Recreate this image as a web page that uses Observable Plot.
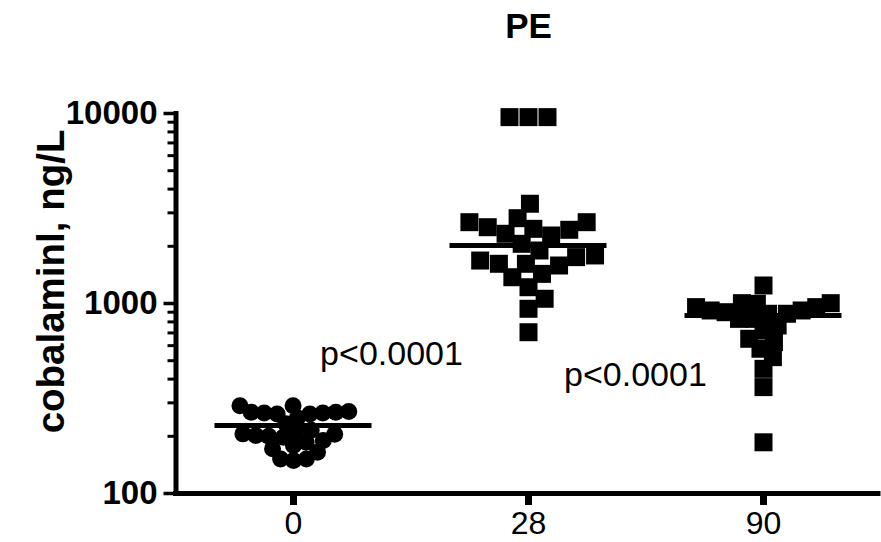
<!DOCTYPE html>
<html><head><meta charset="utf-8">
<script src="https://cdn.jsdelivr.net/npm/d3@7"></script>
<script src="https://cdn.jsdelivr.net/npm/@observablehq/plot@0.6"></script>
<style>
body{margin:0;background:#fff;font-family:"Liberation Sans",Arial,sans-serif;}
#title{position:relative;width:881px;height:50px;}
#title div{position:absolute;left:176px;right:0;top:8px;text-align:center;font-weight:bold;font-size:35px;line-height:35px;color:#000;}
</style>
</head><body>
<div id="title"><div id="titleText"></div></div>
<div id="chart"></div>
<script>
// ---- data ----
const title = "PE";
const yLabel = "cobalaminl, ng/L";
const days = ["0", "28", "90"];
const day0 = [268, 265, 262, 250, 290, 290, 262, 265, 268, 270,
              210, 233, 215, 205, 200,
              198, 186, 172, 152, 149, 152, 165, 179, 190, 202, 206];
const day28 = [9570, 9570, 9570, 3350, 2812, 2679, 2679, 2521, 2443, 2472, 2328, 2280,
               2061, 1901, 1754, 1618, 1585, 1618, 1683, 1790, 1432, 1375, 1218, 1059, 938, 706];
const day90 = [1244, 1004, 996, 957, 919, 900, 883, 830, 766, 830, 883, 919, 957, 1004,
               721, 652, 626, 578, 522, 453, 363, 186];
const medians = [228, 2018, 865];
const yTicks = [100, 1000, 10000];
const pLabels = ["p<0.0001", "p<0.0001"];
const pY = [540, 418];          // vertical position (value) of the p labels
const pX = [0.917, 1.955];      // horizontal position in group units

document.getElementById("titleText").textContent = title;

// ---- layout ----
const W = 881, H = 492, mL = 175.5, mR = 0.5, mT = 63, mB = 49;
const step = (W - mL - mR) / days.length;
const yPix = d3.scaleLog().domain([100, 10000]).range([H - mB, mT]);

// beeswarm-style horizontal spreading (like a scatter dot plot)
function swarm(values, d) {
  const order = values.map((v, i) => i).sort((a, b) => values[a] - values[b] || a - b);
  const placed = [];
  const off = new Array(values.length);
  for (const i of order) {
    const yi = yPix(values[i]);
    const cands = [0];
    for (const p of placed) {
      const dy = Math.abs(p.y - yi);
      if (dy < d) { const dx = Math.sqrt(d * d - dy * dy); cands.push(p.x + dx, p.x - dx); }
    }
    const sum = d3.sum(placed, p => p.x);
    cands.sort((a, b) => (Math.abs(a) - Math.abs(b)) || (sum > 0 ? a - b : b - a));
    let best = 0;
    for (const c of cands) {
      if (placed.every(p => (p.x - c) ** 2 + (p.y - yi) ** 2 >= d * d - 1e-6)) { best = c; break; }
    }
    placed.push({x: best, y: yi});
    off[i] = best;
  }
  return off;
}

const groups = [day0, day28, day90];
const spacing = [13, 19, 15];
const points = [];
groups.forEach((vals, g) => {
  const off = swarm(vals, spacing[g]);
  vals.forEach((v, i) => points.push({group: g, value: v, pos: g + 0.5 + off[i] / step}));
});

const minor = [];
for (const dec of [100, 1000]) for (let k = 2; k <= 9; k++) minor.push(k * dec);

const halfLine = 78.5 / step;

const chart = Plot.plot({
  width: W, height: H,
  marginLeft: mL, marginRight: mR, marginTop: mT, marginBottom: mB,
  style: {fontFamily: "Liberation Sans, Arial, sans-serif", color: "#000", background: "#fff", overflow: "visible"},
  x: {type: "linear", domain: [0, days.length], axis: null},
  y: {type: "log", domain: [100, 10000], axis: null},
  marks: [
    // axis lines
    Plot.ruleX([0], {strokeWidth: 5, stroke: "#000", insetTop: -2}),
    Plot.ruleY([100], {strokeWidth: 5, stroke: "#000", insetLeft: -2.5}),
    // y ticks and labels
    Plot.ruleY(yTicks, {x1: 0, x2: 0, insetLeft: -12, strokeWidth: 3.5, stroke: "#000"}),
    Plot.ruleY(minor, {x1: 0, x2: 0, insetLeft: -8, strokeWidth: 3, stroke: "#000"}),
    Plot.text(yTicks, {x: 0, y: d => d, text: d => String(d), textAnchor: "end", dx: -18.5,
      fontWeight: "bold", fontSize: 33, fill: "#000"}),
    // x ticks and labels
    Plot.ruleX(days.map((d, i) => i + 0.5), {y1: 100, y2: 100, insetBottom: -12, strokeWidth: 7, stroke: "#000"}),
    Plot.text(days, {x: (d, i) => i + 0.5, y: () => 100, text: d => d, lineAnchor: "top", dy: 18,
      fontSize: 32, fill: "#000"}),
    // y-axis title
    Plot.text([yLabel], {x: 0, y: () => 1306, text: d => d, rotate: -90, dx: -124,
      fontSize: 38.5, fontWeight: "bold", fill: "#000"}),
    // points
    Plot.dot(points.filter(p => p.group === 0), {x: "pos", y: "value", r: 8.5, fill: "#000", stroke: null}),
    Plot.dot(points.filter(p => p.group > 0), {x: "pos", y: "value", r: 10.15, symbol: "square", fill: "#000", stroke: null}),
    // median lines
    Plot.ruleY(medians, {y: d => d, x1: (d, i) => i + 0.5 - halfLine, x2: (d, i) => i + 0.5 + halfLine,
      strokeWidth: 5, stroke: "#000"}),
    // p-values
    Plot.text(pLabels, {x: (d, i) => pX[i], y: (d, i) => pY[i], text: d => d,
      fontSize: 34, fill: "#000"})
  ]
});
document.getElementById("chart").appendChild(chart);
</script>
</body></html>
